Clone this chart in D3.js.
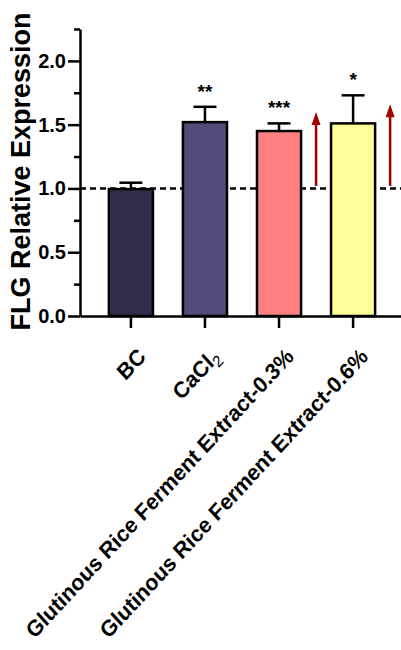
<!DOCTYPE html>
<html>
<head>
<meta charset="utf-8">
<script src="https://cdn.jsdelivr.net/npm/d3@7"></script>
<style>
  body { margin: 0; background: #fff; }
  text { font-family: Arial, "Liberation Sans", sans-serif; font-weight: bold; }
</style>
</head>
<body>
<div id="chart"></div>
<script>
// data
var groups = ["BC", "CaCl2", "Glutinous Rice Ferment Extract-0.3%", "Glutinous Rice Ferment Extract-0.6%"];
var means = [0.995, 1.52, 1.45, 1.51];
var errors = [0.05, 0.12, 0.06, 0.22];
var stars = ["", "**", "***", "*"];
var colors = ["#312c47", "#544a79", "#ff8080", "#ffff99"];
var majorTicks = [0, 0.5, 1.0, 1.5, 2.0];
var minorTicks = [0.25, 0.75, 1.25, 1.75, 2.25];
var baseline = 1.0;
// red arrows next to the extract bars
var arrowGroups = ["Glutinous Rice Ferment Extract-0.3%", "Glutinous Rice Ferment Extract-0.6%"];
var arrowFrom = [1.02, 1.02];
var arrowTo = [1.60, 1.66];

var margin = {top: 29, right: 0, bottom: 334, left: 80},
    width = 401 - margin.left - margin.right,
    height = 650 - margin.top - margin.bottom;

var svg = d3.select("#chart")
  .append("svg")
    .attr("width", 401)
    .attr("height", 650)
  .append("g")
    .attr("transform", "translate(" + margin.left + "," + margin.top + ")");

var x = d3.scaleBand()
  .domain(groups)
  .range([0, 324])
  .paddingInner(0.405)
  .paddingOuter(0.39);

var y = d3.scaleLinear()
  .domain([0, 2.25])
  .range([height, 0]);

// dashed reference line at 1.0
svg.append("line")
  .attr("x1", 0)
  .attr("x2", width)
  .attr("y1", y(baseline))
  .attr("y2", y(baseline))
  .attr("stroke", "#000")
  .attr("stroke-width", 2.5)
  .attr("stroke-dasharray", "6,4");

// error bars
var eb = svg.selectAll(".err")
  .data(groups)
  .enter().append("g")
    .attr("class", "err");
eb.append("line")
  .attr("x1", function(d) { return x(d) + x.bandwidth() / 2; })
  .attr("x2", function(d) { return x(d) + x.bandwidth() / 2; })
  .attr("y1", function(d, i) { return y(means[i]); })
  .attr("y2", function(d, i) { return y(means[i] + errors[i]); })
  .attr("stroke", "#000")
  .attr("stroke-width", 2.5);
eb.append("line")
  .attr("x1", function(d) { return x(d) + x.bandwidth() / 2 - 11.5; })
  .attr("x2", function(d) { return x(d) + x.bandwidth() / 2 + 11.5; })
  .attr("y1", function(d, i) { return y(means[i] + errors[i]); })
  .attr("y2", function(d, i) { return y(means[i] + errors[i]); })
  .attr("stroke", "#000")
  .attr("stroke-width", 2.5);

// bars
svg.selectAll(".bar")
  .data(groups)
  .enter().append("rect")
    .attr("class", "bar")
    .attr("x", function(d) { return x(d); })
    .attr("width", x.bandwidth())
    .attr("y", function(d, i) { return y(means[i]); })
    .attr("height", function(d, i) { return y(0) - y(means[i]); })
    .attr("fill", function(d, i) { return colors[i]; })
    .attr("stroke", "#000")
    .attr("stroke-width", 2.5);

// significance stars
svg.selectAll(".star")
  .data(groups)
  .enter().append("text")
    .attr("class", "star")
    .attr("x", function(d) { return x(d) + x.bandwidth() / 2; })
    .attr("y", function(d, i) { return y(means[i] + errors[i]) - 9; })
    .attr("text-anchor", "middle")
    .style("font-size", "19px")
    .text(function(d, i) { return stars[i]; });

// arrows
arrowGroups.forEach(function(g, i) {
  var ax = x(g) + x.bandwidth() / 2 + x.step() / 2;
  var yTip = y(arrowTo[i]);
  svg.append("line")
    .attr("x1", ax).attr("x2", ax)
    .attr("y1", y(arrowFrom[i]))
    .attr("y2", yTip + 10)
    .attr("stroke", "#a00000")
    .attr("stroke-width", 2.5);
  svg.append("path")
    .attr("d", "M" + ax + "," + yTip + "L" + (ax - 4.5) + "," + (yTip + 13) + "L" + (ax + 4.5) + "," + (yTip + 13) + "Z")
    .attr("fill", "#a00000");
});

// y axis
var yAxis = svg.append("g")
  .call(d3.axisLeft(y).tickValues(majorTicks).tickFormat(d3.format(".1f")).tickSize(12).tickSizeOuter(0).tickPadding(2));
yAxis.selectAll("text").style("font-size", "20px").attr("fill", "#000");
svg.append("g")
  .call(d3.axisLeft(y).tickValues(minorTicks).tickFormat("").tickSize(6).tickSizeOuter(0))
  .select(".domain").remove();
svg.selectAll(".tick line, .domain").attr("stroke", "#000").attr("stroke-width", 2.5);

// x axis
var xAxis = svg.append("g")
  .attr("transform", "translate(0," + height + ")")
  .call(d3.axisBottom(x).tickSize(12).tickSizeOuter(0).tickFormat(""));
xAxis.selectAll(".tick line, .domain").attr("stroke", "#000").attr("stroke-width", 2.5);

// rotated category labels
var labels = svg.selectAll(".xlab")
  .data(groups)
  .enter().append("text")
    .attr("class", "xlab")
    .attr("text-anchor", "end")
    .attr("transform", function(d) {
      return "translate(" + (x(d) + x.bandwidth() / 2 + 16) + "," + (height + 42) + ") scale(1,1.08) rotate(-45)";
    })
    .style("font-size", "21px");
labels.each(function(d) {
  var t = d3.select(this);
  if (d === "CaCl2") {
    t.append("tspan").text("CaCl");
    t.append("tspan").attr("dy", 5).style("font-size", "15px").style("font-weight", "normal").text("2");
  } else {
    t.text(d);
  }
});

// y title
svg.append("text")
  .attr("transform", "translate(" + (30 - margin.left) + "," + (171.5 - margin.top) + ") rotate(-90)")
  .attr("text-anchor", "middle")
  .style("font-size", "27px")
  .text("FLG Relative Expression");
</script>
</body>
</html>
